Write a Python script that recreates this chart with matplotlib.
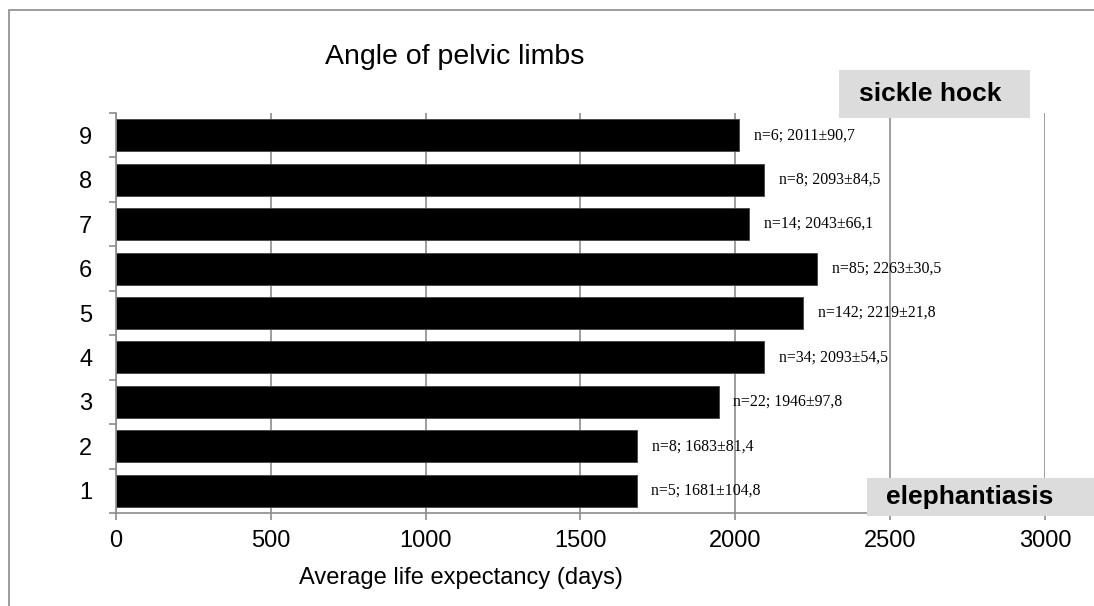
import numpy as np
import matplotlib.pyplot as plt
from matplotlib.patches import Rectangle

categories = ["1", "2", "3", "4", "5", "6", "7", "8", "9"]
values = [1681, 1683, 1946, 2093, 2219, 2263, 2043, 2093, 2011]
labels = ["n=5; 1681±104,8", "n=8; 1683±81,4", "n=22; 1946±97,8",
          "n=34; 2093±54,5", "n=142; 2219±21,8", "n=85; 2263±30,5",
          "n=14; 2043±66,1", "n=8; 2093±84,5", "n=6; 2011±90,7"]
xticks = [0, 500, 1000, 1500, 2000, 2500, 3000]

plt.rcParams['font.family'] = ['Liberation Sans', 'DejaVu Sans']

W, H = 1094, 606
fig = plt.figure(figsize=(W/100, H/100), dpi=100)
# outer chart border (only top and left edges are visible in the picture)
fig.patches.append(Rectangle((9/W, -0.1), 1.2, 1.1 - 10/H, transform=fig.transFigure,
                             fill=False, edgecolor='#8c8c8c', linewidth=1.2))

ax = fig.add_axes([116/W, 1-513/H, (1045-116)/W, (513-113)/H])
y = np.arange(1, len(categories)+1)
ax.barh(y, values, height=0.72, color='black', edgecolor='#444444', linewidth=0.6, zorder=3)
ax.set_xlim(0, 3000)
ax.set_ylim(0.5, 9.5)
ax.set_yticks(y)
ax.set_yticklabels(categories)
ax.set_yticks(np.arange(0.5, 10, 1), minor=True)
ax.set_xticks(xticks)
ax.tick_params(axis='y', which='major', length=0, pad=17, labelsize=17)
ax.tick_params(axis='y', which='minor', length=5, color='#8c8c8c', width=1.2)
ax.tick_params(axis='x', length=5, color='#8c8c8c', width=1.2, labelsize=17, pad=7)
ax.grid(axis='x', color='#8c8c8c', linewidth=1.2, zorder=0)
for s in ['top', 'right']:
    ax.spines[s].set_visible(False)
for s in ['left', 'bottom']:
    ax.spines[s].set_color('#8c8c8c')
    ax.spines[s].set_linewidth(1.2)
    ax.spines[s].set_zorder(4)

for yi, v, lab in zip(y, values, labels):
    ax.text(v + 48, yi, lab, va='center', ha='left', fontsize=11.4,
            family=['Liberation Serif', 'DejaVu Serif'], zorder=5)

fig.text(455/W, 1-57/H, "Angle of pelvic limbs", ha='center', va='center', fontsize=20.5)
fig.text(299/W, 1-578/H, "Average life expectancy (days)", ha='left', va='center', fontsize=17)

# gray label boxes
fig.patches.append(Rectangle((839/W, 1-118/H), (1030-839)/W, (118-70)/H, transform=fig.transFigure,
                             facecolor='#dcdcdc', edgecolor='none', zorder=6))
fig.text(930/W, 1-94/H, "sickle hock", ha='center', va='center', fontsize=19,
         fontweight='bold', zorder=7)
fig.patches.append(Rectangle((867/W, 1-516/H), (1094-867)/W, (516-478)/H, transform=fig.transFigure,
                             facecolor='#dcdcdc', edgecolor='none', zorder=6))
fig.text(970/W, 1-497/H, "elephantiasis", ha='center', va='center', fontsize=19,
         fontweight='bold', zorder=7)

fig.savefig("out.png", dpi=100)
